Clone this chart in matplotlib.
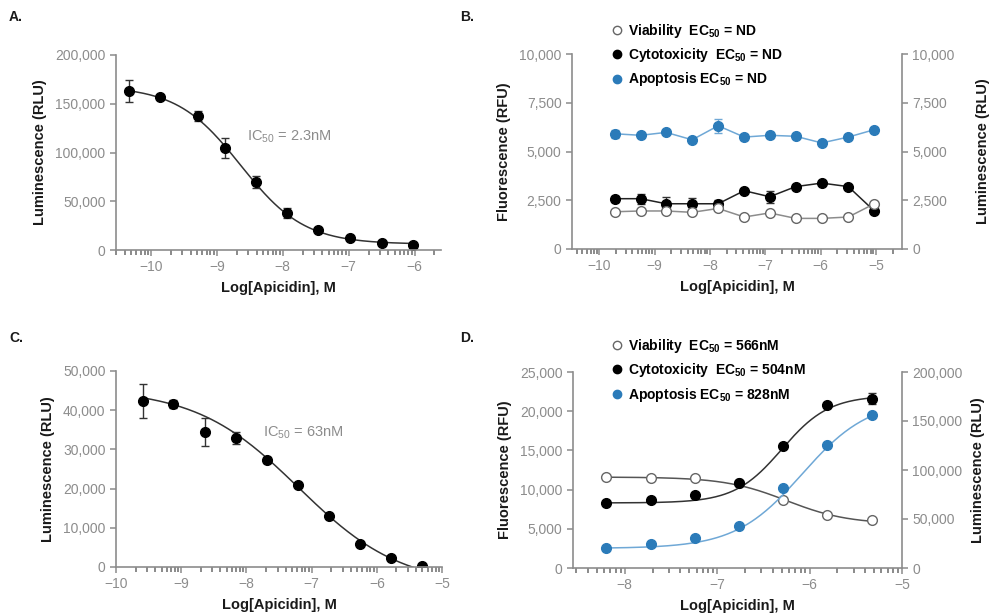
import numpy as np
import matplotlib
matplotlib.use("Agg")
import matplotlib.pyplot as plt
from matplotlib.lines import Line2D
from matplotlib.ticker import FuncFormatter

# ---- data ----
# A: apicidin, luminescence
a_x = [-10.33, -9.86, -9.29, -8.88, -8.40, -7.93, -7.46, -6.98, -6.50, -6.03]
a_y = [163000, 157000, 137500, 104500, 69700, 37600, 20500, 12300, 7200, 5500]
a_err = [11000, 1500, 5000, 10000, 6000, 5000, 1500, 1500, 1000, 1000]
a_fit = (168000, 6000, -8.64, 0.9)   # top, bottom, logIC50, hill

# B: three assays, flat
b_x = [-9.72, -9.25, -8.79, -8.32, -7.85, -7.38, -6.92, -6.45, -5.98, -5.50, -5.03]
b_viab = [1910, 1950, 1950, 1880, 2080, 1640, 1850, 1570, 1570, 1640, 2320]
b_cyto = [2580, 2580, 2320, 2320, 2320, 2990, 2680, 3200, 3380, 3200, 1950]
b_cyto_err = [150, 250, 350, 300, 200, 100, 300, 100, 100, 100, 100]
b_apop = [5910, 5830, 5980, 5600, 6320, 5740, 5830, 5780, 5440, 5740, 6120]
b_apop_err = [200, 100, 100, 100, 350, 150, 150, 100, 100, 100, 100]

# C: apicidin, luminescence
c_x = [-9.59, -9.12, -8.63, -8.16, -7.69, -7.21, -6.73, -6.26, -5.78, -5.30]
c_y = [42340, 41570, 34340, 32880, 27340, 20870, 13130, 5980, 2400, 260]
c_err = [4300, 1000, 3600, 1500, 800, 500, 500, 500, 400, 300]
c_fit = (45500, -5000, -7.20, 0.55)

# D: three assays, dose response
d_x = [-8.20, -7.72, -7.24, -6.76, -6.29, -5.81, -5.33]
d_viab = [11600, 11440, 11440, 10840, 8720, 6760, 6080]          # RFU
d_cyto = [8290, 8720, 9360, 10840, 15560, 20750, 21600]          # RFU
d_cyto_err = [200, 200, 200, 300, 300, 300, 700]
d_apop = [20800, 24200, 30600, 42600, 82000, 125200, 155800]     # RLU
viab_fit = (11600, 5600, -6.25, 1.3)
cyto_fit = (8300, 22000, -6.30, 1.7)
apop_fit = (20000, 172000, -6.08, 1.2)

BLUE = "#2b7bb9"
LBLUE = "#6fa8d6"
GRAY = "#8c8c8c"
LAB = dict(fontsize=10.5, fontweight="bold", color="#1a1a1a")

plt.rcParams["font.family"] = ["Liberation Sans", "DejaVu Sans"]
plt.rcParams["mathtext.fontset"] = "custom"
plt.rcParams["mathtext.rm"] = "Liberation Sans"
plt.rcParams["mathtext.bf"] = "Liberation Sans:bold"


def logistic(x, start, end, mid, hill):
    return start + (end - start) / (1 + 10 ** ((mid - x) * hill))


def dec_curve(x, p):
    top, bot, mid, hill = p
    return bot + (top - bot) / (1 + 10 ** ((x - mid) * hill))


def style(ax, xlim, ylim, yticks, xticks, right=False):
    ax.set_xlim(*xlim)
    ax.set_ylim(*ylim)
    ax.set_yticks(yticks)
    ax.set_yticklabels([f"{v:,}" for v in yticks])
    ax.set_xticks(xticks)
    ax.xaxis.set_major_formatter(FuncFormatter(lambda v, p: f"\u2212{abs(int(v))}"))
    # log-decade minor ticks like a GraphPad concentration axis
    minors = [d + np.log10(k) for d in range(-11, -4) for k in range(2, 10)]
    minors = [m for m in minors if xlim[0] <= m <= xlim[1]]
    ax.set_xticks(minors, minor=True)
    ax.spines["top"].set_visible(False)
    if not right:
        ax.spines["right"].set_visible(False)
    for s in ax.spines.values():
        s.set_color(GRAY)
        s.set_linewidth(1.2)
    ax.tick_params(axis="both", which="major", colors=GRAY, labelsize=10,
                   length=4, width=1.1, labelcolor=GRAY)
    ax.tick_params(axis="x", which="minor", bottom=True, colors="#777777",
                   length=3.5, width=1.2)
    ax.set_xlabel("Log[Apicidin], M", labelpad=5, **LAB)
    ax.set_ylabel("Luminescence (RLU)", labelpad=6, **LAB)


fig = plt.figure(figsize=(10.08, 6.13), dpi=100)
W, H = 1008, 613


def box(l, r, t, b):
    return [l / W, 1 - b / H, (r - l) / W, (b - t) / H]


# ---- A ----
axA = fig.add_axes(box(116, 441, 55, 250))
xs = np.linspace(a_x[0], a_x[-1], 200)
axA.plot(xs, dec_curve(xs, a_fit), color="#333333", lw=1.1)
axA.errorbar(a_x, a_y, yerr=a_err, fmt="o", color="black", ms=7,
             ecolor="#333333", elinewidth=1, capsize=3)
style(axA, (-10.53, -5.6), (0, 200000), [0, 50000, 100000, 150000, 200000],
      [-10, -9, -8, -7, -6])
axA.text(-8.54, 116000, "IC$_{50}$ = 2.3nM", color=GRAY, fontsize=10.5, va="center")

# ---- C ----
axC = fig.add_axes(box(116, 442, 371, 567))
xs = np.linspace(c_x[0], c_x[-1], 200)
axC.plot(xs, dec_curve(xs, c_fit), color="#333333", lw=1.1)
axC.errorbar(c_x, c_y, yerr=c_err, fmt="o", color="black", ms=7,
             ecolor="#333333", elinewidth=1, capsize=3)
style(axC, (-10, -5), (0, 50000), [0, 10000, 20000, 30000, 40000, 50000],
      [-10, -9, -8, -7, -6, -5])
axC.text(-7.74, 34200, "IC$_{50}$ = 63nM", color=GRAY, fontsize=10.5, va="center")

# ---- B ----
axB = fig.add_axes(box(572, 902, 54, 249))
axB.plot(b_x, b_apop, color=LBLUE, lw=1.1, zorder=1)
axB.errorbar(b_x, b_apop, yerr=b_apop_err, fmt="o", color=BLUE, ms=7,
             ecolor=LBLUE, elinewidth=1, capsize=3)
axB.plot(b_x, b_cyto, color="#222222", lw=1.1, zorder=1)
axB.errorbar(b_x, b_cyto, yerr=b_cyto_err, fmt="o", color="black", ms=7,
             ecolor="#333333", elinewidth=1, capsize=3)
axB.plot(b_x, b_viab, color=GRAY, lw=1.1, marker="o", mfc="white",
         mec="#666666", ms=7, zorder=3)
style(axB, (-10.49, -4.53), (0, 10000), [0, 2500, 5000, 7500, 10000],
      [-10, -9, -8, -7, -6, -5], right=True)
axB.set_ylabel("Fluorescence (RFU)", labelpad=6, **LAB)
axB2 = axB.twinx()
axB2.set_ylim(0, 10000)
axB2.set_yticks([0, 2500, 5000, 7500, 10000])
axB2.set_yticklabels([f"{v:,}" for v in [0, 2500, 5000, 7500, 10000]])
axB2.tick_params(colors=GRAY, labelsize=10, length=4, width=1.1, labelcolor=GRAY)
for s in axB2.spines.values():
    s.set_visible(False)
axB2.set_ylabel("Luminescence (RLU)", labelpad=15, **LAB)

# ---- D ----
axD = fig.add_axes(box(573, 902, 372, 568))
axD2 = axD.twinx()
xs = np.linspace(d_x[0], d_x[-1], 200)
axD.plot(xs, dec_curve(xs, viab_fit), color="#555555", lw=1.1)
axD.plot(xs, logistic(xs, *cyto_fit), color="#333333", lw=1.1)
axD2.plot(xs, logistic(xs, *apop_fit), color=LBLUE, lw=1.1)
axD.plot(d_x, d_viab, "o", mfc="white", mec="#666666", ms=7, zorder=3)
axD.errorbar(d_x, d_cyto, yerr=d_cyto_err, fmt="o", color="black", ms=7,
             ecolor="#333333", elinewidth=1, capsize=3, zorder=3)
axD2.plot(d_x, d_apop, "o", color=BLUE, ms=7)
style(axD, (-8.56, -5.0), (0, 25000), [0, 5000, 10000, 15000, 20000, 25000],
      [-8, -7, -6, -5], right=True)
axD.set_ylabel("Fluorescence (RFU)", labelpad=6, **LAB)
axD2.set_ylim(0, 200000)
axD2.set_yticks([0, 50000, 100000, 150000, 200000])
axD2.set_yticklabels([f"{v:,}" for v in [0, 50000, 100000, 150000, 200000]])
axD2.tick_params(colors=GRAY, labelsize=10, length=4, width=1.1, labelcolor=GRAY)
for s in axD2.spines.values():
    s.set_visible(False)
axD2.set_ylabel("Luminescence (RLU)", labelpad=6, **LAB)


# ---- legends ----
def legend(labels, top_px):
    handles = [
        Line2D([], [], ls="none", marker="o", mfc="white", mec="#666666", ms=6),
        Line2D([], [], ls="none", marker="o", color="black", ms=6),
        Line2D([], [], ls="none", marker="o", color=BLUE, ms=6),
    ]
    fig.legend(handles, labels, loc="upper left",
               bbox_to_anchor=(613 / W, 1 - top_px / H), frameon=False,
               handlelength=0.6, handletextpad=0.5, labelspacing=0.45,
               borderaxespad=0, borderpad=0,
               prop={"weight": "bold", "size": 10})


legend(["Viability  EC$_{\\mathbf{50}}$ = ND", "Cytotoxicity  EC$_{\\mathbf{50}}$ = ND",
        "Apoptosis EC$_{\\mathbf{50}}$ = ND"], 22)
legend(["Viability  EC$_{\\mathbf{50}}$ = 566nM", "Cytotoxicity  EC$_{\\mathbf{50}}$ = 504nM",
        "Apoptosis EC$_{\\mathbf{50}}$ = 828nM"], 337)

# ---- panel letters ----
for lbl, px, py in [("A.", 9, 17), ("B.", 460, 17), ("C.", 9, 338), ("D.", 460, 338)]:
    fig.text(px / W, 1 - py / H, lbl, fontsize=10, fontweight="bold",
             color="#1a1a1a", va="center")

fig.savefig("out.png", dpi=100)
